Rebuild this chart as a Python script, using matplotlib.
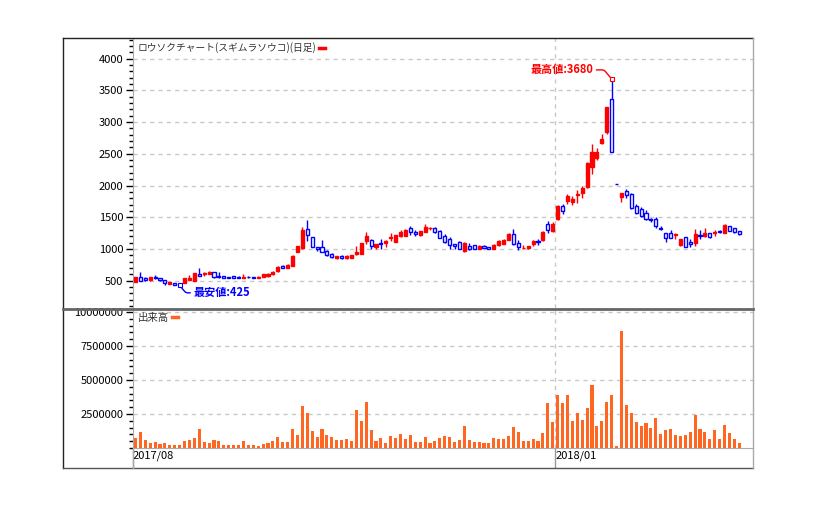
import numpy as np
import pandas as pd
import matplotlib
matplotlib.use("Agg")
import matplotlib.pyplot as plt
from matplotlib.lines import Line2D
from matplotlib.ticker import MultipleLocator, FixedLocator, FuncFormatter

plt.rcParams['font.family'] = ['Noto Sans CJK JP', 'DejaVu Sans']

title = "ロウソクチャート(スギムラソウコ)(日足)"
vol_title = "出来高"
date_labels = ["2017/08", "2018/01"]
date_index = [0, 86]

opens = [485, 560, 540, 505, 555, 540, 515, 450, 468, 440,
         470, 518, 500, 600, 598, 605, 630, 570, 570, 562,
         568, 565, 550, 562, 555, 550, 560, 575, 600, 650,
         735, 705, 730, 957, 1010, 1312, 1188, 1030, 1031, 964,
         927, 865, 895, 855, 865, 915, 922, 1120, 1146, 1031,
         1094, 1094, 1167, 1115, 1208, 1208, 1328, 1260, 1214, 1271,
         1327, 1323, 1276, 1208, 1156, 1078, 1104, 964, 1052, 1057,
         1005, 1052, 1026, 1005, 1057, 1083, 1146, 1240, 1094, 1010,
         1010, 1078, 1120, 1135, 1391, 1290, 1470, 1677, 1750, 1734,
         1844, 1880, 1969, 2297, 2437, 2672, 2838, 3370, 2030, 1818,
         1906, 1860, 1677, 1630, 1562, 1474, 1474, 1333, 1250, 1250,
         1214, 1062, 1182, 1104, 1099, 1219, 1208, 1250, 1250, 1281,
         1255, 1359, 1323, 1281]
highs = [560, 630, 560, 560, 585, 545, 518, 480, 470, 458,
         540, 588, 614, 693, 641, 651, 632, 630, 575, 565,
         578, 568, 598, 570, 562, 570, 610, 620, 651, 730,
         742, 760, 900, 1050, 1345, 1458, 1190, 1035, 1146, 990,
         935, 895, 905, 900, 905, 1052, 1100, 1270, 1150, 1085,
         1156, 1135, 1250, 1220, 1302, 1310, 1365, 1302, 1280, 1396,
         1344, 1344, 1297, 1234, 1187, 1080, 1120, 1104, 1094, 1062,
         1062, 1062, 1030, 1075, 1146, 1161, 1245, 1312, 1146, 1068,
         1045, 1135, 1156, 1280, 1437, 1432, 1690, 1703, 1860, 1828,
         1932, 2000, 2365, 2651, 2589, 2807, 3240, 3680, 2030, 1890,
         1953, 1890, 1703, 1661, 1609, 1495, 1505, 1359, 1252, 1297,
         1245, 1160, 1190, 1156, 1312, 1297, 1323, 1255, 1307, 1307,
         1390, 1370, 1325, 1285]
lows = [480, 498, 495, 500, 520, 500, 437, 445, 432, 425,
        465, 505, 495, 573, 580, 599, 550, 540, 540, 538,
        540, 535, 540, 540, 535, 545, 555, 565, 590, 645,
        695, 700, 725, 950, 1005, 1130, 1025, 975, 945, 885,
        860, 845, 850, 850, 860, 910, 920, 1073, 1005, 1005,
        1005, 1026, 1120, 1110, 1182, 1200, 1224, 1198, 1210, 1260,
        1302, 1250, 1167, 1094, 1005, 1005, 1000, 960, 985, 1000,
        1000, 1010, 995, 1000, 1042, 1073, 1140, 1068, 990, 1005,
        995, 1052, 1068, 1130, 1245, 1266, 1460, 1557, 1714, 1693,
        1729, 1802, 1958, 2177, 2406, 2651, 2818, 2526, 2030, 1740,
        1807, 1625, 1547, 1500, 1453, 1427, 1333, 1297, 1115, 1175,
        1161, 1050, 1030, 1036, 1052, 1156, 1193, 1175, 1208, 1245,
        1250, 1280, 1245, 1225]
closes = [555, 500, 510, 555, 540, 505, 465, 478, 435, 445,
          535, 536, 614, 580, 625, 635, 560, 555, 545, 545,
          550, 545, 565, 552, 548, 562, 598, 605, 640, 720,
          700, 755, 895, 1045, 1300, 1219, 1031, 1005, 948, 901,
          870, 885, 855, 895, 900, 945, 1094, 1198, 1042, 1083,
          1073, 1120, 1183, 1214, 1260, 1302, 1260, 1240, 1276, 1354,
          1333, 1260, 1177, 1115, 1062, 1042, 1005, 1088, 1000, 1005,
          1052, 1015, 1000, 1068, 1120, 1135, 1240, 1083, 1026, 1018,
          1042, 1120, 1104, 1271, 1302, 1400, 1682, 1594, 1833, 1781,
          1860, 1958, 2359, 2531, 2531, 2734, 3234, 2526, 2030, 1880,
          1854, 1651, 1573, 1526, 1474, 1458, 1370, 1318, 1177, 1177,
          1229, 1156, 1036, 1083, 1240, 1198, 1250, 1187, 1266, 1266,
          1380, 1286, 1266, 1229]
volumes = [725, 1175, 575, 350, 425, 275, 350, 200, 200, 200,
           500, 575, 725, 1400, 425, 350, 575, 500, 200, 200,
           200, 200, 500, 200, 200, 125, 275, 350, 500, 800,
           425, 425, 1400, 950, 3125, 2600, 1250, 800, 1400, 950,
           800, 575, 575, 650, 500, 2825, 2000, 3350, 1325, 500,
           725, 350, 875, 725, 1025, 650, 950, 425, 425, 800,
           350, 500, 725, 875, 800, 425, 575, 1625, 575, 425,
           425, 350, 350, 725, 650, 650, 875, 1550, 1175, 500,
           500, 650, 500, 1100, 3280, 1890, 3870, 3280, 3870, 1960,
           2550, 2030, 2920, 4610, 1590, 1960, 3360, 3870, 120, 8580,
           3140, 2550, 1890, 1590, 1810, 1450, 2180, 1000, 1300, 1370,
           930, 860, 930, 1150, 2400, 1370, 1150, 640, 1300, 640,
           1670, 1080, 640, 340]

df = pd.DataFrame({'open': opens, 'high': highs, 'low': lows,
                   'close': closes, 'volume': np.array(volumes) * 1000})
df['x'] = np.arange(len(df))
up = df.close > df.open

W, H = 815, 520
fig = plt.figure(figsize=(W / 100, H / 100), dpi=100)
ax1 = fig.add_axes([133 / W, 1 - 308 / H, 620 / W, 270 / H])
ax2 = fig.add_axes([133 / W, 1 - 448 / H, 620 / W, 140 / H], sharex=ax1)

grid_kw = dict(color="#c8c8c8", linewidth=1, linestyle=(0, (3, 3)), zorder=0)

# candles
for d, col, face in [(df[up], "#ff0000", "#ff0000"), (df[~up], "#0000ff", "white")]:
    ax1.vlines(d.x, d.low, d.high, color=col, linewidth=1, zorder=2)
    ax1.bar(d.x, (d.close - d.open).abs(), bottom=d[['open', 'close']].min(axis=1),
            width=0.62, color=face, edgecolor=col, linewidth=1, zorder=3)

ax1.set_ylim(70, 4325)
ax1.set_xlim(-0.5, 125.8)
ax1.yaxis.set_major_locator(FixedLocator(np.arange(500, 4001, 500)))
ax1.yaxis.set_minor_locator(MultipleLocator(100))
ax1.grid(axis='y', **grid_kw)
ax1.axvline(date_index[1] - 0.5, **grid_kw)
ax1.tick_params(axis='x', bottom=False, labelbottom=False)

# high / low notes
imax, hi = df.high.idxmax(), df.high.max()
imin, lo = df.low.idxmin(), df.low.min()
ax1.annotate(f"最高値:{hi:.0f}", xy=(imax, hi), xytext=(-13, 6.5), textcoords='offset points',
             ha='right', va='center', color="#ff0000", fontsize=8, fontweight='bold',
             arrowprops=dict(arrowstyle='-', color="#ff0000", lw=1, shrinkA=0, shrinkB=0,
                             connectionstyle="angle,angleA=0,angleB=130,rad=2"), zorder=5)
ax1.plot(imax, hi, marker='s', ms=2.5, mfc='white', mec="#ff0000", mew=0.8, zorder=5)
ax1.annotate(f"最安値:{lo:.0f}", xy=(imin, lo), xytext=(9.7, -5.3), textcoords='offset points',
             ha='left', va='center', color="#0000ff", fontsize=8, fontweight='bold',
             arrowprops=dict(arrowstyle='-', color="#0000ff", lw=1, shrinkA=0, shrinkB=0,
                             connectionstyle="angle,angleA=0,angleB=-50,rad=2"), zorder=5)
ax1.plot(imin, lo, marker='s', ms=2.5, mfc='white', mec="#0000ff", mew=0.8, zorder=5)

ax1.legend(handles=[Line2D([], [], color="#ff0000", lw=2.5)], labels=[title], loc='upper left',
           frameon=False, markerfirst=False, handlelength=0.6, handletextpad=0.3,
           fontsize=7, labelcolor="#333333", borderaxespad=0.15, borderpad=0.3)

# volume
ax2.bar(df.x, df.volume, width=0.62, color="#ff6622", zorder=3)
ax2.set_ylim(0, 10.3e6)
ax2.yaxis.set_major_locator(FixedLocator([2.5e6, 5e6, 7.5e6, 1e7]))
ax2.yaxis.set_major_formatter(FuncFormatter(lambda v, p: f"{v:.0f}"))
ax2.yaxis.set_minor_locator(MultipleLocator(500000))
ax2.grid(axis='y', **grid_kw)
ax2.axvline(date_index[1] - 0.5, **grid_kw)
ax2.legend(handles=[Line2D([], [], color="#ff6622", lw=2.5)], labels=[vol_title], loc='upper left',
           frameon=False, markerfirst=False, handlelength=0.6, handletextpad=0.3,
           fontsize=7.5, labelcolor="#333333", borderaxespad=0.15, borderpad=0.3)

ax2.set_xticks([i - 0.5 for i in date_index])
ax2.set_xticklabels(date_labels)
ax2.tick_params(axis='x', length=14.5, width=1, color="#999999", pad=-13, labelsize=8)
for lbl in ax2.get_xticklabels():
    lbl.set_horizontalalignment('left')
ax2.xaxis.get_major_ticks()[1].tick1line.set_color('black')

for ax in (ax1, ax2):
    for s in ('top', 'right', 'bottom'):
        ax.spines[s].set_visible(False)
    ax.spines['left'].set_color("#aaaaaa")
    ax.tick_params(axis='y', which='major', length=5, width=1, color='black', labelsize=8, pad=2)
    ax.tick_params(axis='y', which='minor', length=3, width=1, color='black')
ax2.spines['bottom'].set_visible(True)
ax2.spines['bottom'].set_color("#aaaaaa")

# frame
def fline(x0, y0, x1, y1, color, lw):
    fig.add_artist(Line2D([x0 / W, x1 / W], [1 - y0 / H, 1 - y1 / H], color=color, lw=lw,
                          transform=fig.transFigure))

fline(63, 38, 753, 38, "#222222", 1)
fline(63, 38, 63, 468, "#222222", 1)
fline(63, 468, 753, 468, "#555555", 1)
fline(753, 38, 753, 468, "#aaaaaa", 1)
fline(63, 308.5, 753, 308.5, "#666666", 2)
fline(133, 448, 133, 468, "#aaaaaa", 1)

plt.savefig("out.png", dpi=100)
